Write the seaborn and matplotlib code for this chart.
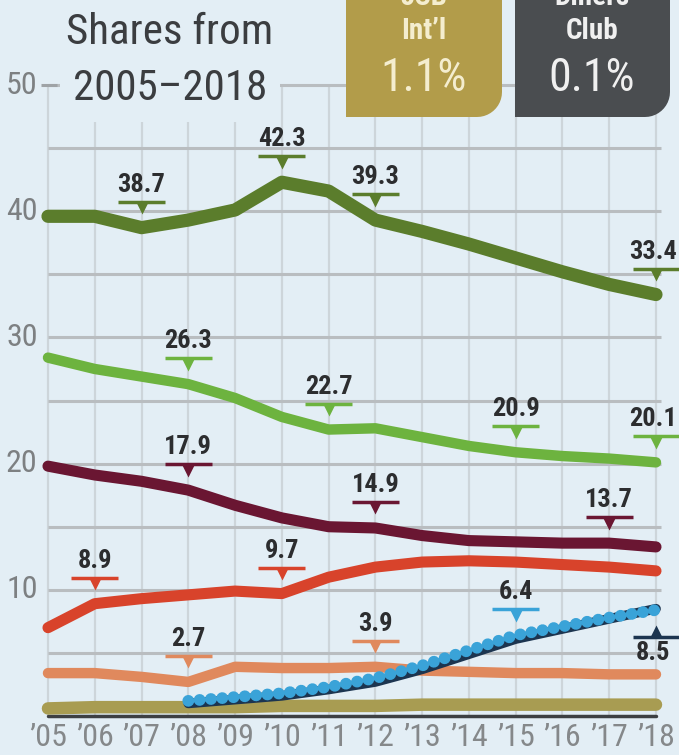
import numpy as np
import pandas as pd
import seaborn as sns
import matplotlib.pyplot as plt
import matplotlib.font_manager as fm
from matplotlib.patches import Polygon
from matplotlib.transforms import Affine2D

sns.set_theme(style="white")
fonts = fm.fontManager.ttflist
installed = {f.name for f in fonts}
narrow = next((n for n in ["Roboto Condensed", "Archivo Narrow", "Sofia Sans Condensed",
                           "Liberation Sans Narrow"] if n in installed), "DejaVu Sans")
bold_narrow = next((n for n in ["Roboto Condensed", "Archivo Narrow", "Saira SemiCondensed",
                                "Saira ExtraCondensed"]
                    if any(f.name == n and f.weight >= 600 for f in fonts)), narrow)
plt.rcParams["font.family"] = [narrow, "DejaVu Sans"]

# 数据
years = list(range(2005, 2019))
year_labels = ["’05", "’06", "’07", "’08", "’09", "’10", "’11",
               "’12", "’13", "’14", "’15", "’16", "’17", "’18"]
dark_green = [39.6, 39.6, 38.7, 39.3, 40.1, 42.3, 41.6, 39.3, 38.4, 37.4, 36.3, 35.2, 34.2, 33.4]
light_green = [28.4, 27.5, 26.9, 26.3, 25.2, 23.7, 22.7, 22.8, 22.1, 21.4, 20.9, 20.6, 20.4, 20.1]
maroon = [19.8, 19.1, 18.6, 17.9, 16.7, 15.7, 15.0, 14.9, 14.3, 13.9, 13.8, 13.7, 13.7, 13.4]
red = [7.0, 8.9, 9.3, 9.6, 9.9, 9.7, 11.0, 11.8, 12.2, 12.3, 12.2, 12.0, 11.8, 11.5]
salmon = [3.4, 3.4, 3.1, 2.7, 3.9, 3.8, 3.8, 3.9, 3.6, 3.5, 3.4, 3.4, 3.3, 3.3]
jcb = [0.6, 0.7, 0.7, 0.7, 0.7, 0.8, 0.8, 0.8, 0.9, 0.9, 0.9, 0.9, 0.9, 0.9]
diners = [0.0] * 14
years_new = list(range(2008, 2019))
blue = [1.2, 1.5, 1.8, 2.3, 3.0, 4.0, 5.2, 6.4, 7.1, 7.8, 8.4]
navy = [1.0, 1.3, 1.6, 2.1, 2.7, 3.7, 4.9, 6.1, 6.9, 7.7, 8.5]

# (颜色, 年份, 数值, 方向)
callouts = [
    ("#5b7d2c", 2007, 38.7, "down"), ("#5b7d2c", 2010, 42.3, "down"),
    ("#5b7d2c", 2012, 39.3, "down"), ("#5b7d2c", 2018, 33.4, "down"),
    ("#6db33f", 2008, 26.3, "down"), ("#6db33f", 2011, 22.7, "down"),
    ("#6db33f", 2015, 20.9, "down"), ("#6db33f", 2018, 20.1, "down"),
    ("#6a1632", 2008, 17.9, "down"), ("#6a1632", 2012, 14.9, "down"),
    ("#6a1632", 2017, 13.7, "down"),
    ("#d8432b", 2006, 8.9, "down"), ("#d8432b", 2010, 9.7, "down"),
    ("#e0895d", 2008, 2.7, "down"), ("#e0895d", 2012, 3.9, "down"),
    ("#3aa3d8", 2015, 6.4, "down"), ("#1c3550", 2018, 8.5, "up"),
]

BG = "#e3eef5"
W, H = 679, 755
fig = plt.figure(figsize=(W / 100, H / 100), dpi=100, facecolor=BG)
ax = fig.add_axes([0, 0, 1, 1])
ax.set_facecolor(BG)
ax.set_xlim(2003.974, 2018.492)
ax.set_ylim(-3.09, 56.74)
ax.axis("off")
px = Affine2D().scale(1 / W, -1 / H).translate(0, 1) + fig.transFigure

# 网格
for yv in range(5, 55, 5):
    ax.hlines(yv, 2005, 2018.1, color="#b9bdc0", lw=2.2, zorder=1)
ax.hlines(50, 2004.85, 2005.2, color="#9fa3a6", lw=2.2, zorder=4.5)
ax.vlines(years, 0, 50, color="#cdd5da", lw=1.6, zorder=0.5)
for yv in range(10, 60, 10):
    ax.text(2004.78, yv, str(yv), ha="right", va="center", fontsize=23,
            color="#7d8082", zorder=5)
for yr, lab in zip(years, year_labels):
    ax.text(yr, -1.7, lab, ha="center", va="center", fontsize=23,
            color="#85888a")

# 折线
lines = [
    (diners, "#3d4043", 2.5), (jcb, "#a89c52", 9.0), (salmon, "#e0895d", 7.5),
    (red, "#d8432b", 8.0), (maroon, "#6a1632", 8.0),
    (light_green, "#6db33f", 7.5), (dark_green, "#5b7d2c", 9.5),
]
for vals, col, lw in lines:
    sns.lineplot(x=years, y=vals, color=col, lw=lw, ax=ax, zorder=3,
                 solid_capstyle="round", solid_joinstyle="round")
sns.lineplot(x=years_new, y=navy, color="#1c3550", lw=7, ax=ax, zorder=3.5,
             solid_capstyle="round", solid_joinstyle="round")
sns.lineplot(x=years_new, y=blue, color="#3aa3d8", lw=8.5, ax=ax, zorder=3.6,
             linestyle=(0, (0.01, 0.95)), dash_capstyle="round")

# 标注
lab_font = dict(fontsize=19, fontweight="bold", family=[bold_narrow, "DejaVu Sans"],
                color="#2c2d2f", zorder=6)
for col, yr, val, d in callouts:
    tx = yr - 0.06 if yr == 2018 else yr
    if d == "down":
        ax.hlines(val + 2.05, yr - 0.5, yr + 0.5, color=col, lw=2.5, zorder=5)
        ax.plot(yr, val + 1.55, marker="v", ms=9, color=col, mec="none", zorder=5)
        ax.text(tx, val + 2.45, f"{val:.1f}", ha="center", va="bottom", **lab_font)
    else:
        ax.hlines(val - 2.2, yr - 0.5, yr + 0.6, color=col, lw=2.5, zorder=5)
        ax.plot(yr, val - 1.75, marker="^", ms=9, color=col, mec="none", zorder=5)
        ax.text(tx, val - 2.55, f"{val:.1f}", ha="center", va="top", **lab_font)

# 标题
fig.text(170, 33, "Shares from", transform=px, ha="center", va="center",
         fontsize=31, color="#3b3d40")
fig.text(170, 89, "2005–2018", transform=px, ha="center", va="center",
         fontsize=31, color="#3b3d40", zorder=4,
         bbox=dict(boxstyle="square,pad=0.3", fc=BG, ec="none"))

# 右上角的方框
def corner_box(x0, x1, y1, color):
    r = 25
    t = np.linspace(0, np.pi / 2, 12)
    arc = np.column_stack([x1 - r + r * np.sin(t), y1 - r + r * np.cos(t)])
    pts = [(x0, -30), (x0, y1)] + [tuple(p) for p in arc] + [(x1, -30)]
    fig.patches.append(Polygon(pts, closed=True, fc=color, ec="none",
                               transform=px, zorder=7))

corner_box(346, 502, 117, "#b29c4a")
corner_box(515, 670, 117, "#4a4d50")
for cx, top, mid, big, tc in [(424, "JCB", "Int’l", "1.1%", "#f4edcf"),
                              (592, "Diners", "Club", "0.1%", "#f0f0f0")]:
    fig.text(cx, -3, top, transform=px, ha="center", va="center",
             fontsize=21, fontweight="bold", family=[bold_narrow, "DejaVu Sans"],
             color=tc, zorder=8)
    fig.text(cx, 31, mid, transform=px, ha="center", va="center",
             fontsize=21, fontweight="bold", family=[bold_narrow, "DejaVu Sans"],
             color=tc, zorder=8)
    fig.text(cx, 78, big, transform=px, ha="center", va="center",
             fontsize=33, color=tc, zorder=8)

fig.savefig("out.png", dpi=100, facecolor=BG)
